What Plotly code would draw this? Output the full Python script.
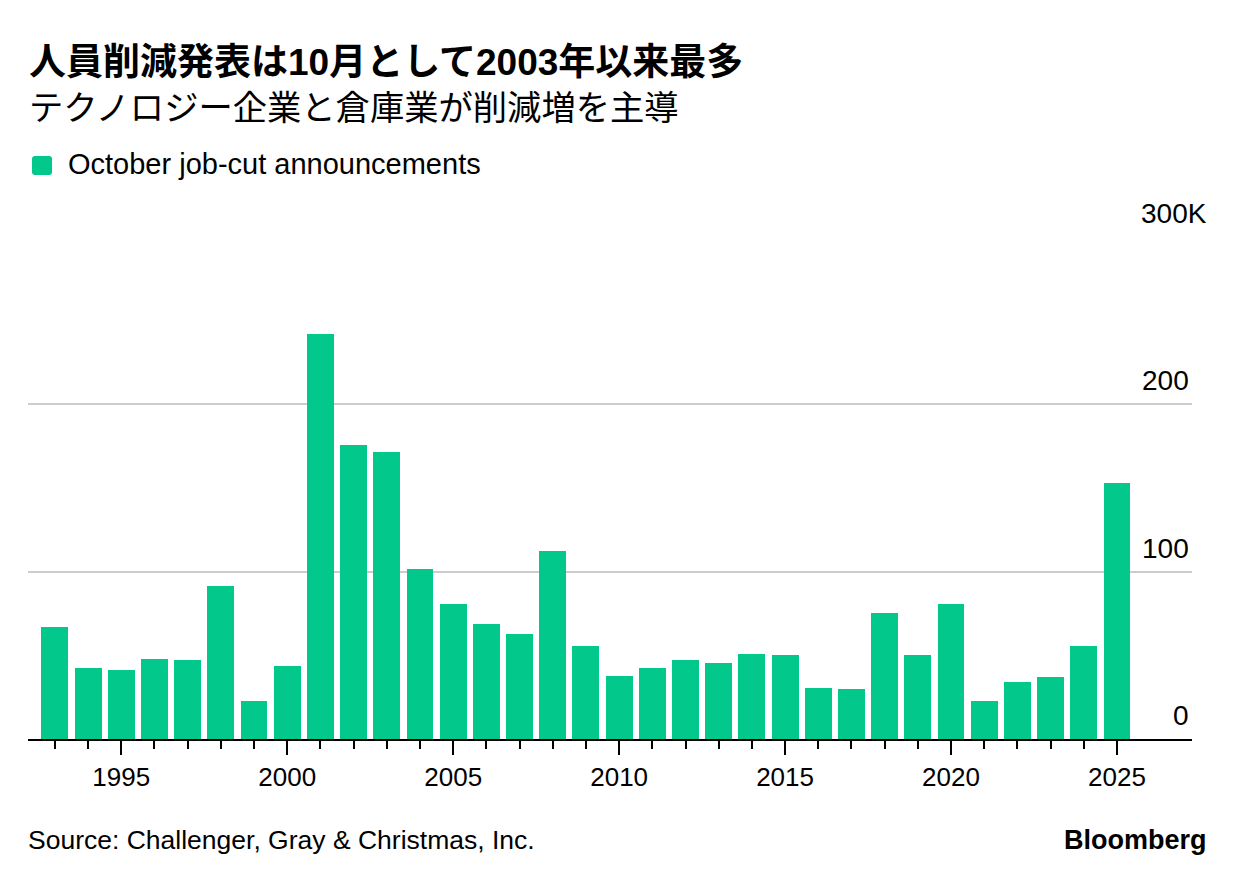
import plotly.graph_objects as go

years = list(range(1993, 2026))
job_cuts_k = [67.0, 42.4, 41.2, 47.8, 47.2, 91.5, 22.7, 43.6, 242.0, 175.7,
              171.5, 101.6, 80.7, 68.7, 62.8, 112.4, 55.6, 37.7, 42.4, 47.2,
              45.4, 50.8, 50.2, 30.5, 29.9, 75.6, 50.3, 80.7, 22.8, 33.8,
              36.8, 55.6, 153.1]
x_major_ticks = [1995, 2000, 2005, 2010, 2015, 2020, 2025]
y_ticks = [0, 100, 200, 300]
y_tick_labels = ["0", "100", "200", "300K"]

title = "人員削減発表は10月として2003年以来最多"
subtitle = "テクノロジー企業と倉庫業が削減増を主導"
legend_label = "October job-cut announcements"
source = "Source: Challenger, Gray & Christmas, Inc."
brand = "Bloomberg"

GREEN = "#02c98b"
LATIN = "Liberation Sans, Arial, Noto Sans CJK JP, sans-serif"

# page offset of the plot div (default body margin)
OFF = 8
W, H = 1237 - 2 * OFF, 882 - 2 * OFF
# plot area in page pixels
PL, PR, PT, PB = 28, 1192, 237, 739
ML, MR = PL - OFF, W - (PR - OFF)
MT, MB = PT - OFF, H - (PB - OFF)
PW, PH = PR - PL, PB - PT


def px_x(x):
    return (x - PL) / PW


def px_y(y):
    return (PB - y) / PH


fig = go.Figure()
fig.add_trace(go.Bar(
    x=years, y=job_cuts_k, width=0.81,
    marker=dict(color=GREEN, line=dict(width=0)),
    showlegend=False, hoverinfo="x+y",
))

annotations = []
for v, lab in zip(y_ticks, y_tick_labels):
    annotations.append(dict(
        xref="paper", yref="y", x=1, y=v, text=lab, showarrow=False,
        xanchor="right", yanchor="bottom", yshift=6,
        xshift=(17 if lab.endswith("K") else -1),
        font=dict(family=LATIN, size=28, color="#000000"),
    ))

annotations += [
    dict(xref="paper", yref="paper", x=px_x(27), y=px_y(62), text="<b>" + title + "</b>",
         showarrow=False, xanchor="left", yanchor="middle",
         font=dict(family=LATIN, size=37, color="#000000")),
    dict(xref="paper", yref="paper", x=px_x(27), y=px_y(105), text=subtitle,
         showarrow=False, xanchor="left", yanchor="middle",
         font=dict(family="Noto Sans CJK JP", size=34.3, color="#000000")),
    dict(xref="paper", yref="paper", x=px_x(66), y=px_y(164), text=legend_label,
         showarrow=False, xanchor="left", yanchor="middle",
         font=dict(family=LATIN, size=29, color="#000000")),
    dict(xref="paper", yref="paper", x=px_x(26), y=px_y(840), text=source,
         showarrow=False, xanchor="left", yanchor="middle",
         font=dict(family=LATIN, size=26.5, color="#000000")),
    dict(xref="paper", yref="paper", x=px_x(1209), y=px_y(840), text="<b>" + brand + "</b>",
         showarrow=False, xanchor="right", yanchor="middle",
         font=dict(family=LATIN, size=27, color="#000000")),
]

# rounded legend swatch
x0, x1 = px_x(32), px_x(52)
y0, y1 = px_y(175), px_y(156)
rx, ry = 3 / PW, 3 / PH
path = (f"M {x0+rx},{y0} L {x1-rx},{y0} Q {x1},{y0} {x1},{y0+ry} "
        f"L {x1},{y1-ry} Q {x1},{y1} {x1-rx},{y1} L {x0+rx},{y1} "
        f"Q {x0},{y1} {x0},{y1-ry} L {x0},{y0+ry} Q {x0},{y0} {x0+rx},{y0} Z")

fig.update_layout(
    width=W, height=H,
    margin=dict(l=ML, r=MR, t=MT, b=MB),
    paper_bgcolor="white", plot_bgcolor="white",
    bargap=0,
    annotations=annotations,
    shapes=[dict(type="path", xref="paper", yref="paper", path=path,
                 fillcolor=GREEN, line=dict(width=0))],
    xaxis=dict(
        range=[1992.19, 2027.26], tickvals=x_major_ticks,
        ticks="outside", ticklen=14, tickwidth=2, tickcolor="#000000",
        showline=True, linecolor="#000000", linewidth=2,
        showgrid=False, zeroline=False,
        tickfont=dict(family=LATIN, size=26, color="#000000"),
        minor=dict(tickvals=years, ticks="outside", ticklen=8,
                   tickwidth=2, tickcolor="#000000", showgrid=False),
    ),
    yaxis=dict(
        range=[0, 300], tickvals=y_ticks, showticklabels=False,
        showgrid=True, gridcolor="#cccccc", gridwidth=1.5,
        zeroline=False, ticks="",
    ),
)

fig.write_html("out.html")
